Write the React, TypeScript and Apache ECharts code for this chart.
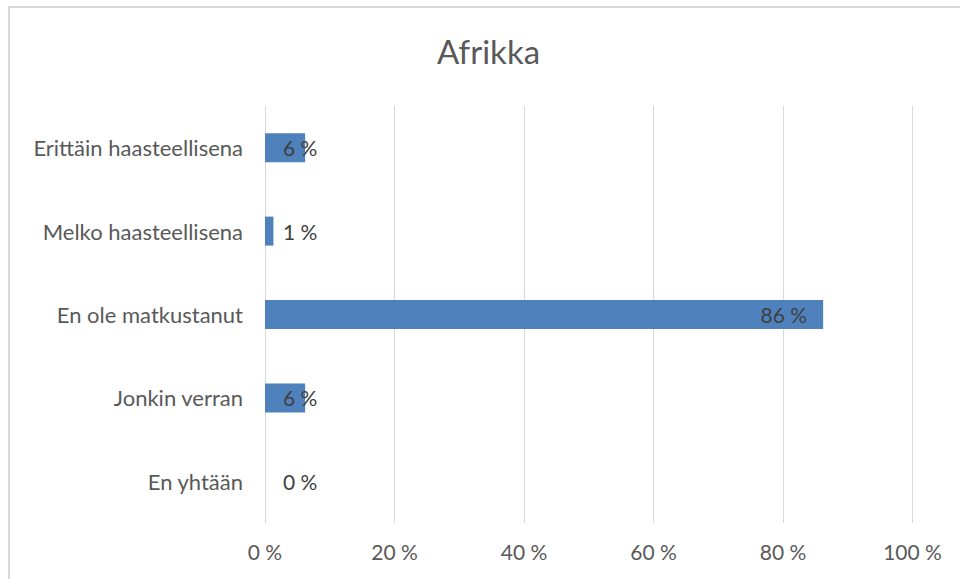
import React, { useEffect, useRef } from "react";
import * as echarts from "echarts";

const title = "Afrikka";
const categories = [
  "Erittäin haasteellisena",
  "Melko haasteellisena",
  "En ole matkustanut",
  "Jonkin verran",
  "En yhtään",
];
const values = [6.2, 1.3, 86.2, 6.2, 0];
const xTicks = [0, 20, 40, 60, 80, 100];

const FONT = "Lato";
const TEXT = "#595959";

export default function App() {
  const ref = useRef<HTMLDivElement>(null);
  useEffect(() => {
    if (!ref.current) return;
    const chart = echarts.init(ref.current, null, { renderer: "svg" });
    const data = values.map((v) => {
      const big = v > 20;
      return {
        value: v,
        label: {
          show: true,
          position: big ? "insideRight" : "insideLeft",
          distance: big ? 16 : 18,
          color: "#404040",
        },
      };
    });
    chart.setOption({
      animation: false,
      backgroundColor: "#ffffff",
      title: {
        text: title,
        left: 432,
        top: 29,
        textStyle: { fontFamily: FONT, fontSize: 33, fontWeight: "normal", color: TEXT },
      },
      graphic: [
        {
          type: "rect",
          shape: { x: 9, y: 7, width: 1000, height: 1000 },
          style: { fill: "none", stroke: "#d9d9d9", lineWidth: 2 },
          silent: true,
        },
      ],
      grid: { left: 265, right: 47.5, top: 106, bottom: 56 },
      xAxis: {
        type: "value",
        min: 0,
        max: 100,
        interval: 20,
        axisLine: { show: false },
        axisTick: { show: false },
        splitLine: { show: true, lineStyle: { color: "#d9d9d9", width: 1 } },
        axisLabel: {
          margin: 18,
          fontFamily: FONT,
          fontSize: 21,
          color: TEXT,
          formatter: (v: number) => (xTicks.includes(v) ? `${v} %` : ""),
        },
      },
      yAxis: {
        type: "category",
        inverse: true,
        data: categories,
        axisLine: { show: false },
        axisTick: { show: false },
        axisLabel: { margin: 22, fontFamily: FONT, fontSize: 22, color: TEXT },
      },
      series: [
        {
          type: "bar",
          data,
          barWidth: 29,
          itemStyle: { color: "#4f81bd" },
          label: {
            show: true,
            fontFamily: FONT,
            fontSize: 21,
            formatter: (p: any) => `${Math.round(p.value)} %`,
          },
        },
      ],
    });
    return () => chart.dispose();
  }, []);
  return (
    <div
      ref={ref}
      style={{ position: "fixed", left: 0, top: 0, width: 960, height: 579 }}
    />
  );
}
